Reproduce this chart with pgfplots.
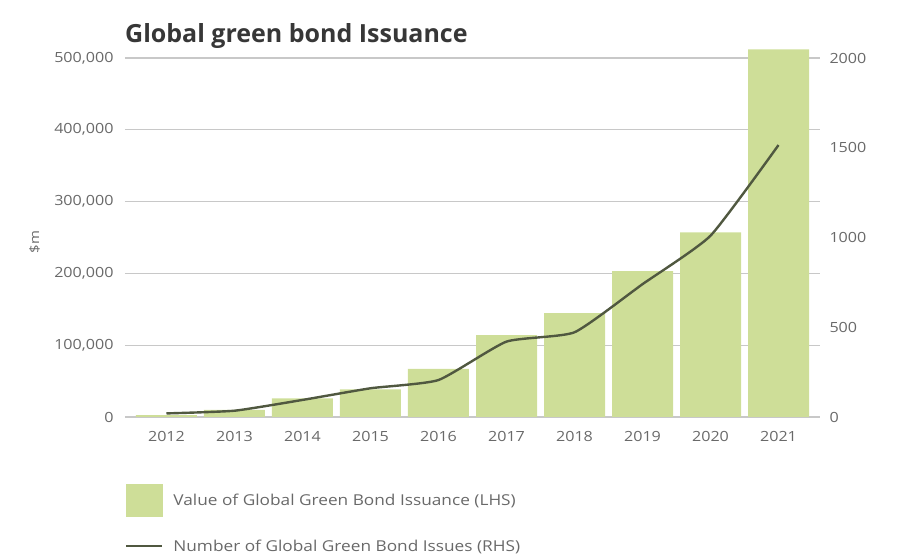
\documentclass[border=0pt]{standalone}
\usepackage{fontspec}
\setmainfont{Open Sans}
\newfontfamily\tickfont[FakeStretch=1.15]{Open Sans}
\usepackage{pgfplots}
\pgfplotsset{compat=1.18}
\definecolor{barc}{RGB}{206,222,152}
\definecolor{linec}{RGB}{80,88,64}
\definecolor{gridc}{RGB}{200,200,200}
\definecolor{tickc}{RGB}{105,105,105}
\definecolor{titlec}{RGB}{55,55,55}
\begin{document}
\begin{tikzpicture}
\path[use as bounding box] (0,0) rectangle (898pt,554pt);
\node[anchor=base west, text=titlec, font=\fontsize{25}{30}\selectfont\bfseries, inner sep=0pt] at (125pt,511pt) {Global green bond Issuance};
\begin{axis}[
  at={(125pt,137pt)}, anchor=south west,
  scale only axis, width=695pt, height=359pt,
  xmin=2011.39, xmax=2021.61, ymin=0, ymax=500000,
  clip=false,
  axis line style={draw=none}, tick style={draw=none},
  ymajorgrids, grid style={gridc, line width=1.2pt},
  ytick={0,100000,200000,300000,400000,500000},
  scaled y ticks=false,
  /pgf/number format/assume math mode=true,
  yticklabel style={xshift=-8pt, /pgf/number format/.cd, fixed, 1000 sep={,}},
  xtick={2012,2013,2014,2015,2016,2017,2018,2019,2020,2021},
  xticklabel style={yshift=-11pt, /pgf/number format/.cd, 1000 sep={}},
  tick label style={font=\tickfont\fontsize{14}{16}\selectfont, text=tickc},
  ylabel={\$m},
  ylabel style={at={(axis description cs:-0.13,0.487)}, anchor=center, font=\tickfont\fontsize{13}{15}\selectfont, text=tickc},
]
\addplot[ybar, bar width=61pt, fill=barc, draw=none] coordinates {
(2012,2600) (2013,10000) (2014,26000) (2015,38500) (2016,67000)
(2017,114000) (2018,144500) (2019,203000) (2020,257000) (2021,512000)};
\end{axis}
\begin{axis}[
  at={(125pt,137pt)}, anchor=south west,
  scale only axis, width=695pt, height=359pt,
  xmin=2011.39, xmax=2021.61, ymin=0, ymax=2000,
  hide x axis, axis y line*=right, axis line style={draw=none}, tick style={draw=none},
  ytick={0,500,1000,1500,2000},
  /pgf/number format/assume math mode=true,
  yticklabel style={anchor=west, xshift=6pt, font=\tickfont\fontsize{14}{16}\selectfont, text=tickc, /pgf/number format/.cd, 1000 sep={}},
  legend style={at={(axis description cs:0,-0.187)}, anchor=north west, draw=none, fill=none,
    inner sep=0pt, outer sep=0pt, row sep=23pt, column sep=10pt,
    font=\tickfont\fontsize{15}{17}\selectfont, text=tickc, nodes={inner sep=0pt}},
  legend cell align=left,
]
\addlegendimage{legend image code/.code={\fill[barc] (0pt,-16pt) rectangle (36pt,16pt);}}
\addlegendentry{Value of Global Green Bond Issuance (LHS)}
\addplot[linec, line width=2.4pt, smooth, tension=0.3,
  legend image code/.code={\draw[linec, line width=2.4pt] (0pt,0pt) -- (36pt,0pt);}] coordinates {
(2012,20) (2013,35) (2014,95) (2015,160) (2016,206)
(2017,420) (2018,472) (2019,740) (2020,1010) (2021,1515)};
\addlegendentry{Number of Global Green Bond Issues (RHS)}
\end{axis}
\end{tikzpicture}
\end{document}
